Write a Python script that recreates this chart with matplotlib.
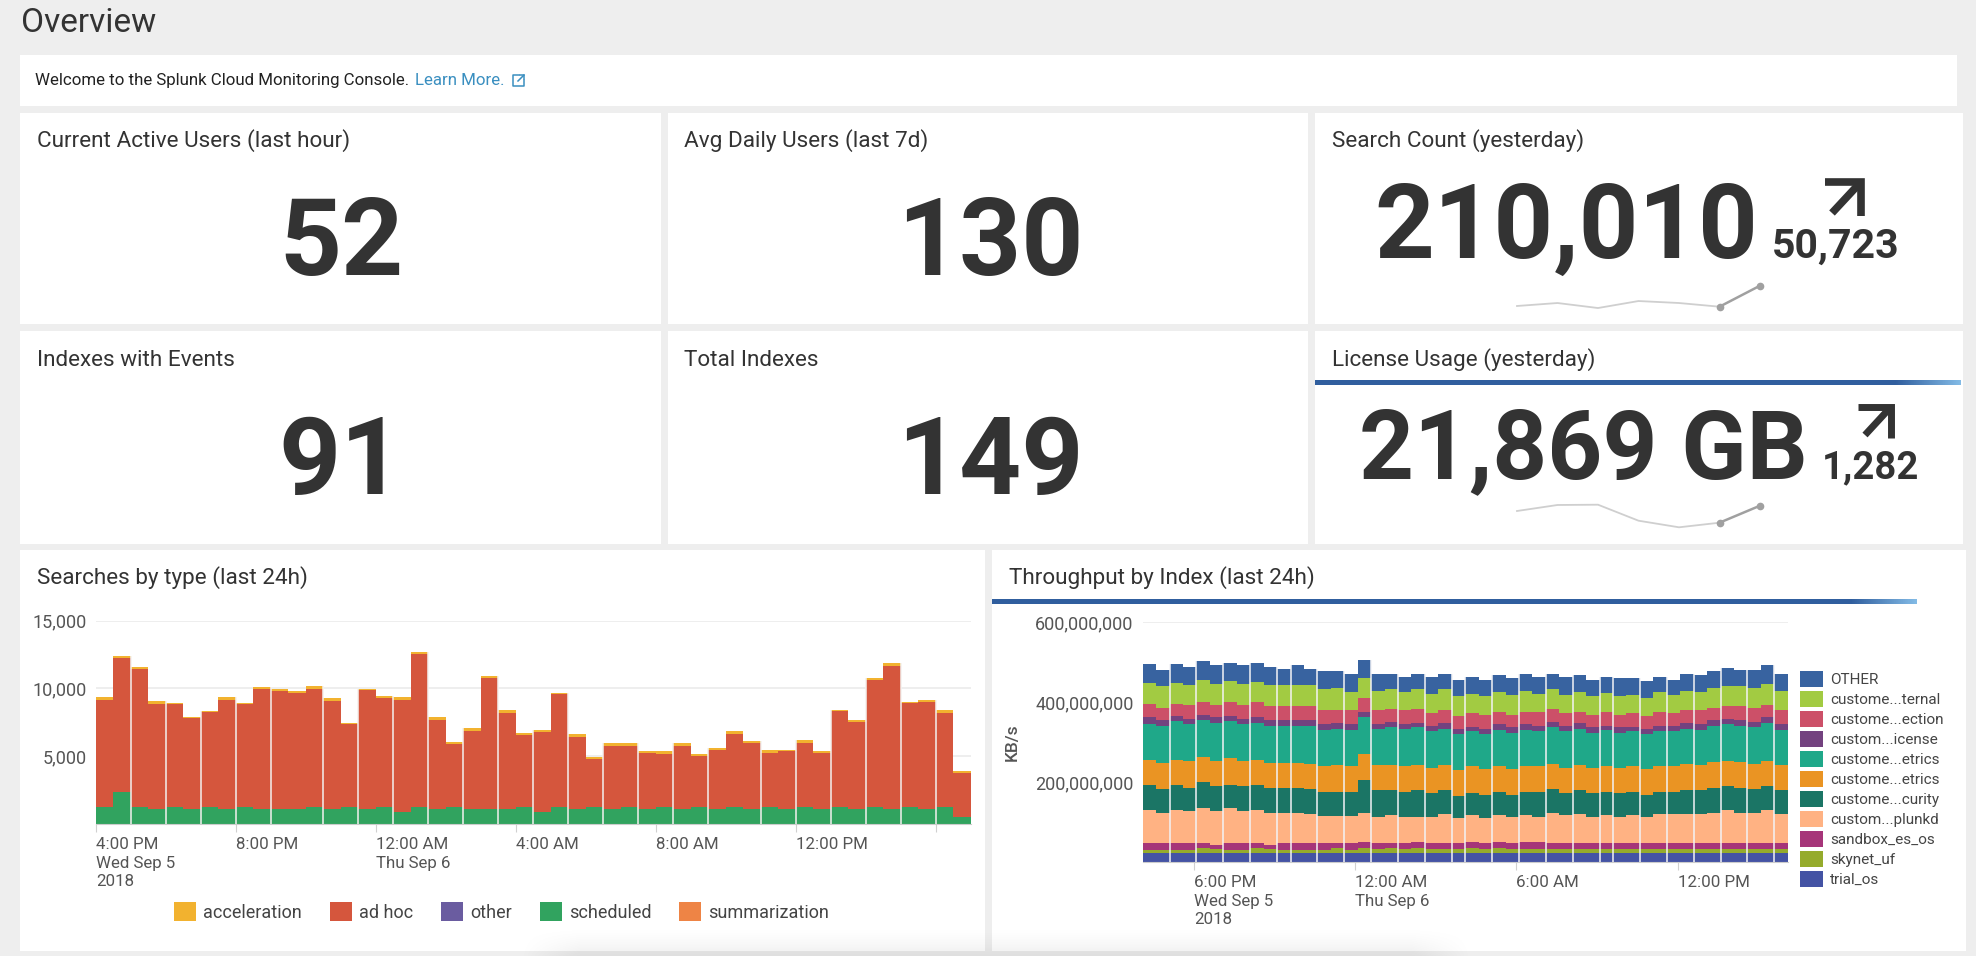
import numpy as np
import matplotlib
matplotlib.use("Agg")
import matplotlib.pyplot as plt
from matplotlib.patches import Rectangle

W, H = 1976, 956
plt.rcParams['font.family'] = ['Roboto', 'DejaVu Sans']

# searches by type, one bar per 30 minutes from 4:00 PM
search_scheduled = [1290, 2340, 1220, 1070, 1220, 1070, 1220, 1070, 1220, 1070,
                    1070, 1070, 1220, 1070, 1220, 1070, 1220, 920, 1220, 1070,
                    1220, 1070, 1070, 1070, 1220, 920, 1220, 1070, 1220, 1070,
                    1220, 1070, 1220, 1070, 1220, 1070, 1220, 1070, 1220, 1070,
                    1220, 1070, 1220, 1070, 1220, 1070, 1220, 1070, 1220, 500]
search_adhoc = [7850, 9910, 10180, 7770, 7620, 6720, 7020, 8070, 7620, 8910,
                8720, 8570, 8765, 7970, 6150, 8790, 8090, 8220, 11345, 6620,
                4680, 5780, 9710, 7150, 5380, 5900, 8340, 5350, 3610, 4680,
                4530, 4160, 3930, 4680, 3810, 4380, 5400, 4930, 4030, 4310,
                4780, 4180, 7100, 6420, 9380, 10610, 7690, 7940, 7000, 3285]
search_accel = [200, 120, 150, 200, 120, 80, 100, 200, 120, 100,
                195, 170, 225, 220, 100, 125, 150, 200, 95, 200,
                125, 200, 120, 200, 120, 100, 100, 200, 125, 250,
                250, 150, 230, 250, 100, 150, 250, 125, 230, 70,
                225, 130, 100, 200, 200, 200, 100, 130, 200, 125]
search_names = ['acceleration', 'ad hoc', 'other', 'scheduled', 'summarization']
search_colors = ['#f2b22f', '#d5563d', '#6a5ca0', '#31a35f', '#ee8445']
search_gaps = [3, 5, 7, 9, 11, 14, 16, 18, 20, 22, 24, 26, 28, 30, 32, 34, 36, 39, 41, 43, 45, 47, 49]

# throughput, top edge of each stacked band in millions of KB/s (top band first)
tp_tops = [
    [494, 481, 494, 488, 502, 492, 498, 492, 498, 488, 483, 492, 483, 477, 477, 470, 505,
     470, 470, 463, 470, 463, 470, 456, 463, 456, 467, 459, 470, 463, 470, 463, 467,
     456, 463, 460, 460, 453, 463, 456, 470, 467, 477, 484, 481, 481, 492, 470],
    [448, 439, 448, 442, 456, 446, 452, 446, 450, 442, 442, 442, 442, 432, 435, 425, 460,
     428, 432, 425, 432, 421, 432, 414, 421, 414, 425, 418, 428, 421, 432, 418, 425,
     414, 422, 414, 418, 411, 425, 418, 428, 425, 436, 439, 439, 436, 446, 428],
    [396, 386, 396, 392, 400, 392, 400, 392, 400, 389, 389, 389, 389, 379, 379, 379, 411,
     379, 382, 379, 382, 372, 379, 365, 372, 368, 375, 368, 375, 375, 382, 372, 375,
     368, 375, 368, 372, 365, 375, 372, 379, 379, 386, 390, 390, 386, 393, 379],
    [362, 354, 365, 358, 368, 362, 365, 358, 362, 354, 354, 354, 354, 344, 348, 344, 375,
     344, 351, 344, 348, 341, 348, 333, 337, 333, 344, 337, 344, 340, 351, 341, 348,
     337, 341, 337, 337, 333, 341, 341, 348, 344, 354, 358, 354, 351, 362, 344],
    [346, 341, 352, 344, 354, 348, 352, 344, 348, 341, 341, 341, 341, 330, 333, 330, 362,
     333, 337, 333, 337, 327, 333, 319, 327, 319, 330, 323, 330, 327, 337, 327, 333,
     323, 330, 323, 327, 319, 327, 327, 333, 330, 341, 344, 341, 337, 348, 330],
    [256, 248, 256, 252, 263, 253, 260, 253, 256, 248, 248, 248, 245, 239, 243, 239, 270,
     243, 243, 239, 243, 235, 243, 229, 239, 232, 239, 232, 239, 239, 245, 235, 243,
     235, 239, 235, 239, 232, 239, 239, 245, 243, 249, 253, 249, 245, 253, 243],
    [193, 182, 193, 186, 200, 189, 193, 189, 193, 186, 186, 186, 182, 175, 175, 175, 204,
     179, 179, 175, 179, 172, 179, 165, 172, 168, 175, 168, 175, 175, 182, 172, 179,
     172, 175, 172, 175, 168, 175, 175, 179, 179, 186, 189, 186, 182, 189, 179],
    [130, 123, 130, 128, 134, 128, 134, 128, 130, 123, 123, 123, 119, 116, 116, 116, 123,
     113, 117, 113, 113, 113, 119, 109, 117, 109, 117, 113, 117, 113, 123, 117, 119,
     113, 117, 113, 117, 113, 119, 119, 119, 119, 123, 130, 123, 123, 130, 119],
    [47, 47, 47, 47, 47, 43, 47, 47, 47, 43, 47, 47, 47, 47, 47, 47, 50,
     47, 47, 47, 50, 47, 47, 47, 50, 47, 50, 47, 50, 50, 47, 47, 47,
     47, 47, 47, 47, 47, 47, 47, 47, 47, 47, 47, 47, 47, 47, 47],
    [31, 31, 31, 31, 36, 33, 31, 31, 36, 33, 31, 31, 31, 31, 36, 31, 36,
     33, 36, 33, 36, 33, 33, 33, 36, 33, 36, 33, 33, 33, 33, 33, 33,
     33, 33, 33, 33, 33, 33, 33, 33, 33, 33, 33, 33, 33, 33, 33],
    [22] * 48,
]
tp_names = ['OTHER', 'custome...ternal', 'custome...ection', 'custom...icense', 'custome...etrics',
            'custome...etrics', 'custome...curity', 'custom...plunkd', 'sandbox_es_os', 'skynet_uf', 'trial_os']
tp_colors = ['#3863a0', '#a2cb42', '#cc5068', '#73427f', '#1fa889', '#ea9423',
             '#1b7565', '#ffb283', '#a63579', '#95ab2c', '#4453a4']
tp_gaps = [3, 5, 7, 9, 11, 12, 14, 16, 18, 20, 22, 24, 25, 27, 29, 31, 33, 35, 36, 38, 40, 42, 44, 46, 48]

spark_search = [161000, 168200, 156100, 173000, 168200, 159287, 210010]
spark_license = [21469, 21922, 21944, 20738, 20240, 20587, 21869]

fig = plt.figure(figsize=(W / 100, H / 100), dpi=100, facecolor='#eeeeee')
bg = fig.add_axes([0, 0, 1, 1])
bg.set_xlim(0, W)
bg.set_ylim(H, 0)
bg.axis('off')


def px_axes(x0, y0, x1, y1):
    a = fig.add_axes([x0 / W, 1 - y1 / H, (x1 - x0) / W, (y1 - y0) / H])
    a.patch.set_alpha(0)
    return a


def panel(x0, y0, x1, y1):
    bg.add_patch(Rectangle((x0, y0), x1 - x0, y1 - y0, fc='white', ec='none'))


def title(x, y, s):
    bg.text(x, y, s, fontsize=16.2, color='#333333', va='center', ha='left')


def big(x, y, s, size=78, ha='center'):
    bg.text(x, y, s, fontsize=size, color='#333333', fontweight='bold', va='baseline', ha=ha)


def arrow(x0, y0, x1, y1, lw):
    m = lw / 2 / 1.389 * 1.389 / 2
    bg.plot([x0, x1 - m, x1 - m], [y0 + m, y0 + m, y1], color='#333333', lw=lw, solid_joinstyle='miter', solid_capstyle='butt')
    bg.plot([x0 + 7, x1 - m - 2], [y1 - 3, y0 + m + 2], color='#333333', lw=lw, solid_capstyle='butt')


def progress(x0, y0, x1, y1, fade):
    ramp = np.clip((np.linspace(0, 1, 400) - fade) / (1 - fade), 0, 1)
    rgb = np.zeros((1, 400, 3))
    rgb[0, :, 0] = 0.19 + ramp * (0.51 - 0.19)
    rgb[0, :, 1] = 0.37 + ramp * (0.73 - 0.37)
    rgb[0, :, 2] = 0.62 + ramp * (0.90 - 0.62)
    bg.imshow(rgb, extent=(x0, x1, y1, y0), aspect='auto', zorder=2)


def shadow(x0, y0, x1, y1, edge):
    # soft grey smudge along the bottom of the screenshot
    xs = np.arange(x0, x1)
    ys = np.arange(y0, y1)
    fx = np.clip(np.minimum(xs - x0, x1 - xs) / edge, 0, 1)
    fy = ((ys - y0) / (y1 - y0)) ** 1.5
    rgba = np.zeros((len(ys), len(xs), 4))
    rgba[:, :, 3] = np.outer(fy, fx) * 0.07
    bg.imshow(rgba, extent=(x0, x1, y1, y0), aspect='auto', zorder=1.5)


def spark(x0, y0, x1, y1, vals, ylo, yhi):
    a = px_axes(x0, y0, x1, y1)
    a.axis('off')
    a.set_xlim(0, 6)
    a.set_ylim(ylo, yhi)
    xs = np.arange(7)
    a.plot(xs[:6], vals[:6], color='#cfcfcf', lw=1.3, clip_on=False)
    a.plot(xs[5:], vals[5:], color='#a0a0a0', lw=1.8, marker='o', ms=4.5, clip_on=False)


# page
bg.text(21, 32, 'Overview', fontsize=24, color='#333333', va='baseline', ha='left')
for box in [(20, 55, 1957, 106),
            (20, 113, 661, 324), (668, 113, 1308, 324), (1315, 113, 1963, 324),
            (20, 331, 661, 544), (668, 331, 1308, 544), (1315, 331, 1963, 544),
            (20, 550, 985, 951), (992, 550, 1966, 951)]:
    panel(*box)

bg.text(35, 80, 'Welcome to the Splunk Cloud Monitoring Console.', fontsize=12.2, color='#222222', va='center', ha='left')
bg.text(415, 80, 'Learn More.', fontsize=12.2, color='#3a8fc0', va='center', ha='left')
bg.plot([519, 513, 513, 524, 524], [75, 75, 86, 86, 80], color='#3a8fc0', lw=1.1)
bg.plot([518, 524], [81, 75], color='#3a8fc0', lw=1.1)
bg.plot([520, 524, 524], [75, 75, 79], color='#3a8fc0', lw=1.1)

title(37, 141, 'Current Active Users (last hour)')
title(684, 141, 'Avg Daily Users (last 7d)')
title(1332, 141, 'Search Count (yesterday)')
title(37, 360, 'Indexes with Events')
title(684, 360, 'Total Indexes')
title(1332, 360, 'License Usage (yesterday)')
title(37, 578, 'Searches by type (last 24h)')
title(1009, 578, 'Throughput by Index (last 24h)')

big(341, 275, '52')
big(990, 275, '130')
big(341, 494, '91')
big(990, 494, '149')
big(1566, 258, '210,010', size=75)
big(1836, 258, '50,723', size=29.5)
big(1583, 478, '21,869 GB', size=69)
big(1870, 478, '1,282', size=27.5)
arrow(1825, 181, 1862, 216, 5.5)
arrow(1858, 406, 1892, 438, 5)

progress(1315, 380, 1960, 385, 0.9)
progress(992, 599, 1916, 604, 0.93)
shadow(520, 925, 1470, 956, 60)
bg.set_xlim(0, W)
bg.set_ylim(H, 0)

spark(1517, 280, 1760, 312, spark_search, 146500, 223767)
spark(1517, 498, 1760, 534, spark_license, 19735, 22449)

# searches chart
ax = px_axes(96, 620.7, 970.5, 824)
n = len(search_adhoc)
x = np.arange(n) * 0.5 + 0.25
sched = np.array(search_scheduled)
adhoc = np.array(search_adhoc)
accel = np.array(search_accel)
ax.bar(x, sched, 0.5, color=search_colors[3], zorder=2)
ax.bar(x, adhoc, 0.5, bottom=sched, color=search_colors[1], zorder=2)
ax.bar(x, accel, 0.5, bottom=sched + adhoc, color=search_colors[0], zorder=2)
totals = sched + adhoc + accel
for g in search_gaps:
    ax.vlines((g - 1) * 0.5, 0, max(totals[g - 2], totals[g - 1]), color='#f4f1ef', lw=1.1, zorder=3)
ax.set_xlim(0, 25)
ax.set_ylim(0, 15000)
ax.set_yticks([5000, 10000, 15000], ['5,000', '10,000', '15,000'])
ax.set_xticks([0, 4, 8, 12, 16, 20, 24],
              ['4:00 PM\nWed Sep 5\n2018', '8:00 PM', '12:00 AM\nThu Sep 6', '4:00 AM', '8:00 AM', '12:00 PM', ''],
              ha='left', va='top', linespacing=1.3)
handles = [Rectangle((0, 0), 1, 1, fc=c, ec='none') for c in search_colors]
ax.legend(handles, search_names, ncols=5, loc='center', bbox_to_anchor=(501.5 / W, 1 - 911.7 / H),
          bbox_transform=fig.transFigure, frameon=False, fontsize=13, labelcolor='#444444',
          handlelength=1.22, handleheight=1.25, handletextpad=0.39, columnspacing=1.55,
          borderpad=0, borderaxespad=0)

# throughput chart
ax2 = px_axes(1142.7, 622, 1787.7, 862)
tops = np.array(tp_tops + [[0] * 48]) * 1e6
x2 = 0.1 + np.arange(48) * 0.5 + 0.25
for i, name in enumerate(tp_names):
    ax2.bar(x2, tops[i] - tops[i + 1], 0.5, bottom=tops[i + 1], color=tp_colors[i], label=name, zorder=2)
for g in tp_gaps:
    ax2.vlines(0.1 + (g - 1) * 0.5, 0, max(tops[0][g - 2], tops[0][g - 1]), color='#f3f3f6', lw=1.1, zorder=3)
ax2.set_xlim(0.1, 24.1)
ax2.set_ylim(0, 600e6)
ax2.set_yticks([200e6, 400e6, 600e6], ['200,000,000', '400,000,000', '600,000,000'])
ax2.set_xticks([2, 8, 14, 20],
               ['6:00 PM\nWed Sep 5\n2018', '12:00 AM\nThu Sep 6', '6:00 AM', '12:00 PM'],
               ha='left', va='top', linespacing=1.3)
ax2.set_ylabel('KB/s', fontsize=12.5, color='#555555', fontweight='medium')
ax2.yaxis.set_label_coords((1019.7 - 1142.7) / 645, 0.5)
ax2.legend(ncols=1, loc='center left', bbox_to_anchor=(1800 / W, 1 - 779 / H),
           bbox_transform=fig.transFigure, frameon=False, fontsize=11, labelcolor='#444444',
           handlelength=1.5, handleheight=1.3, handletextpad=0.46, labelspacing=0.22,
           borderpad=0, borderaxespad=0)

for a in (ax, ax2):
    a.grid(axis='y', color='#eeeeee', lw=1.4, zorder=0)
    a.set_axisbelow(True)
    for s in ('top', 'right', 'left'):
        a.spines[s].set_visible(False)
    a.spines['bottom'].set_color('#cccccc')
    a.tick_params(axis='x', length=5.8, width=0.8, color='#d0d0d0', labelsize=12.2, labelcolor='#555555', pad=3.5)
    a.tick_params(axis='y', length=0, labelsize=13, labelcolor='#555555', pad=6.5)

fig.savefig('out.png', dpi=100, facecolor=fig.get_facecolor())
